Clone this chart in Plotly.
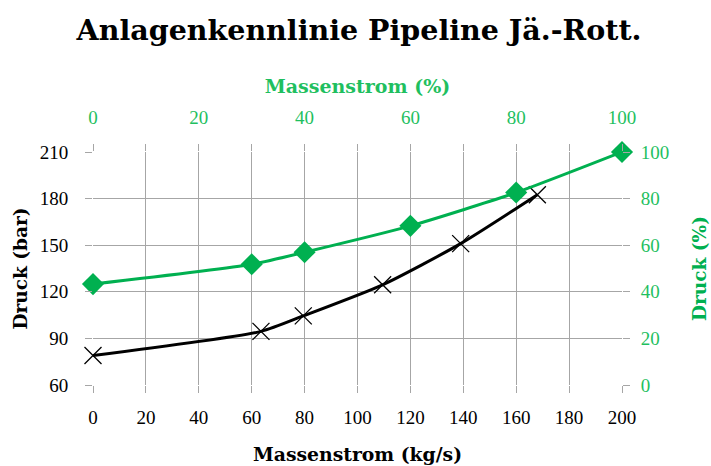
import plotly.graph_objects as go

# Data
flow_kgs = [0, 63.5, 79.5, 109.5, 139, 168]
pressure_bar = [79, 94.5, 104.5, 124.5, 151, 182.5]

flow_pct = [0, 30, 40, 60, 80, 100]
pressure_pct = [43.3, 51.8, 57, 68.3, 82.6, 100]

x_ticks = list(range(0, 201, 20))
y_ticks = list(range(60, 211, 30))
pct_ticks = list(range(0, 101, 20))
top_tickvals = list(range(0, 101, 10))
top_ticktext = [str(v) if v % 20 == 0 else "" for v in top_tickvals]

GREEN = "#00B050"
GREEN_TXT = "#1fbf5f"
GRID = "#a6a6a6"
FONT = "Liberation Serif"
TFONT = "DejaVu Serif"

fig = go.Figure()
fig.add_trace(go.Scatter(
    x=flow_kgs, y=pressure_bar, xaxis="x", yaxis="y",
    mode="lines+markers", line=dict(color="black", width=3, shape="spline", smoothing=0.6),
    marker=dict(symbol="x-thin", size=17, line=dict(color="black", width=1.3)),
    showlegend=False, cliponaxis=False))
fig.add_trace(go.Scatter(
    x=flow_pct, y=pressure_pct, xaxis="x2", yaxis="y2",
    mode="lines+markers", line=dict(color=GREEN, width=3, shape="spline", smoothing=0.6),
    marker=dict(symbol="diamond", size=17, color=GREEN),
    showlegend=False, cliponaxis=False))

fig.update_layout(
    width=711, height=466,
    margin=dict(l=93, r=89, t=152, b=81, autoexpand=False),
    paper_bgcolor="white", plot_bgcolor="white",
    font=dict(family=FONT, size=19, color="black"),
    title=dict(text="<b>Anlagenkennlinie Pipeline Jä.-Rott.</b>",
               x=0.505, xanchor="center", y=0.935, yanchor="middle",
               font=dict(family=TFONT, size=28.5, color="black")),
    xaxis=dict(range=[0, 200], tickvals=x_ticks, showgrid=True, gridcolor=GRID, gridwidth=1,
               zeroline=False, showline=False, ticks="outside", ticklen=7, tickcolor=GRID,
               ticklabelstandoff=8, automargin=False,
               title=dict(text="<b>Massenstrom (kg/s)</b>", standoff=21,
                          font=dict(family=TFONT, size=18.8))),
    xaxis2=dict(range=[0, 100], tickvals=top_tickvals, ticktext=top_ticktext,
                overlaying="x", side="top",
                showgrid=False, zeroline=False, showline=False, ticks="outside", ticklen=7,
                tickcolor=GRID, tickfont=dict(color=GREEN_TXT), ticklabelstandoff=12,
                automargin=False,
                title=dict(text="<b>Massenstrom (%)</b>", standoff=8,
                           font=dict(family=TFONT, size=19, color=GREEN_TXT))),
    yaxis=dict(range=[60, 210], tickvals=y_ticks, showgrid=True, gridcolor=GRID, gridwidth=1,
               zeroline=False, showline=False, ticks="outside", ticklen=7, tickcolor=GRID,
               ticklabelstandoff=13, automargin=False,
               title=dict(text="<b>Druck (bar)</b>", standoff=7,
                          font=dict(family=TFONT, size=18.5))),
    yaxis2=dict(range=[0, 100], tickvals=pct_ticks, overlaying="y", side="right",
                showgrid=False, zeroline=False, showline=False, ticks="outside", ticklen=7,
                tickcolor=GRID, tickfont=dict(color=GREEN_TXT), ticklabelstandoff=7,
                automargin=False,
                title=dict(text="<b>Druck (%)</b>", standoff=24,
                           font=dict(family=TFONT, size=18.5, color=GREEN))),
)

fig.write_html("out.html", config={"displayModeBar": False},
               post_script="document.body.style.margin='0';")
